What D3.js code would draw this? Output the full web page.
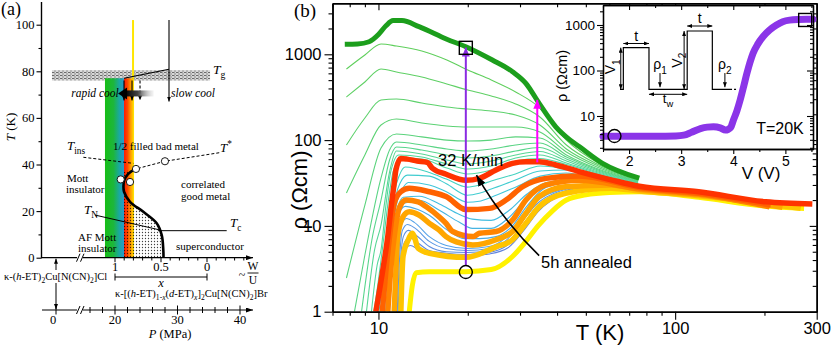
<!DOCTYPE html>
<html><head><meta charset="utf-8">
<script src="https://cdn.jsdelivr.net/npm/d3@7/dist/d3.min.js"></script>
<style>html,body{margin:0;padding:0;background:#fff}svg{display:block}</style>
</head><body>
<svg id="chart" width="831" height="346"></svg>
<script>
// ================= DATA : panel (b) =================
const mainRhoTicks = [1, 10, 100, 1000];
const mainTTicks = [10, 100, 300];
const insetRhoTicks = [10, 100, 1000];
const insetVTicks = [2, 3, 4, 5];

const greenT   = [7.7, 8.5, 9.3, 10.0, 10.6, 11.2, 12.0, 13.7, 17, 19.7, 24.2, 28.3, 31.4, 34.8, 39.6, 44.3, 47.5, 56.7, 75.7];
const greenRho = [1310, 1320, 1400, 1700, 2150, 2470, 2470, 2100, 1500, 1225, 857, 627, 459, 268, 143, 100, 84, 54, 36];

const redT   = [9.8, 10.34, 10.75, 11.0, 11.3, 11.45, 11.9, 12.5, 13.5, 14.6, 15.2, 16.9, 19.7, 21.9, 24.9, 28.3, 31.4, 34.8, 39.6, 47.5, 61.4, 75.7, 120, 202, 290];
const redRho = [1, 3.05, 7.5, 15.3, 31.4, 45, 61, 60, 57, 55, 47, 40, 34, 35.9, 44.8, 53.6, 55.8, 55.8, 51.3, 43, 34.2, 29, 25, 19.1, 18];

const orangeRedT   = [10.3, 10.6, 10.9, 11.3, 11.9, 12.7, 14.85, 16.9, 19.7, 23.7, 26.9, 30.6, 36.7, 47.5, 75.7, 120, 210];
const orangeRedRho = [1, 3.05, 7.5, 18.3, 25, 27.5, 25, 22, 15.5, 16, 20, 28.6, 35.8, 38.2, 28, 24, 17.5];

const orangeT   = [10.75, 11.0, 11.3, 11.8, 12.4, 13.6, 14.5, 16.0, 16.9, 17.8, 20.8, 21.9, 24.9, 28.3, 31.4, 36.7, 47.5, 75.7, 120, 208];
const orangeRho = [1, 3.05, 7.5, 16.7, 20, 19.1, 16.7, 12.8, 10.7, 8.6, 7.5, 8.2, 8.6, 11.7, 20, 30, 34, 27, 23.5, 16.7];

const lightOrangeT   = [11.3, 11.45, 11.6, 12.1, 12.7, 13.7, 14.85, 16.0, 16.9, 18.3, 20.8, 24.9, 28.3, 31.4, 34.8, 42.7, 61, 75.7, 120, 230];
const lightOrangeRho = [1, 3, 7.5, 12.8, 14.6, 13.4, 10.7, 9, 7.5, 6.5, 6, 6.9, 8.6, 14, 22, 28.6, 30, 26.5, 23, 16.5];

const goldT   = [11.9, 12.1, 12.6, 13.0, 13.2, 13.6, 14.85, 19.7, 24.9, 28.3, 31.4, 34.8, 42.7, 61, 75.7, 120, 265];
const goldRho = [1, 4.4, 6.85, 8.2, 7.5, 5.5, 4.8, 4.3, 5.7, 6.9, 10.7, 16.7, 24, 27.5, 25.5, 22.5, 16];

const yellowT   = [12.7, 13.0, 13.4, 14.85, 19.7, 24, 28.3, 31.3, 34.5, 38.6, 43, 50, 60, 75.7, 120, 200, 272];
const yellowRho = [1, 2.0, 2.85, 2.93, 2.93, 3.1, 4.4, 6.5, 10, 15, 20, 23, 24.5, 25, 21.5, 17, 16];

// thin intermediate curves, [T, rho] pairs
const thinGreen = [
 [[7.8,674],[9,981],[10.2,1318],[11.5,1250],[14,1093],[17,858],[20,656],[24,502],[29,364],[35,237],[43,100],[55,54.1],[75,35.2]],
 [[7.8,318],[9,476],[10.2,674],[11.5,622],[14,544],[17,451],[20,384],[24,327],[29,264],[35,186],[43,87.7],[55,51.9],[75,34.7]],
 [[7.8,87.7],[9,181],[10.2,293],[11.5,301],[14,271],[17,243],[20,230],[24,218],[29,196],[35,150],[43,78.8],[55,49.9],[75,34.3]],
 [[7.8,24.2],[9,67.1],[10.2,150],[11.5,176],[14,158],[17,146],[20,142],[24,142],[29,142],[35,124],[43,72.7],[55,47.9],[75,33.8]],
 [[7.8,2.47],[9,17.5],[10.2,80.9],[11.5,118],[14,109],[17,100],[20,97.6],[24,100],[29,109],[35,106],[43,67.1],[55,46.0],[75,33.4]],
 [[8.3,1],[9,4.58],[10.2,36.2],[10.9,76.7],[11.5,95],[14,87.7],[17,78.8],[20,74.6],[24,78.8],[29,87.7],[35,92.5],[43,63.5],[55,44.8],[75,32.9]],
 [[8.77,1],[9.5,6.85],[10.2,20],[10.9,58.6],[11.5,83.1],[14,76.7],[17,67.1],[20,61.9],[24,65.3],[29,74.6],[35,82],[43,60.2],[55,43.6],[75,32.5]],
 [[9.11,1],[9.7,5.24],[10.2,10.2],[10.9,42.5],[11.5,74.6],[14,68.9],[17,58.6],[20,52.7],[24,57.1],[29,67.1],[35,73.6],[43,57.1],[55,42.5],[75,32.1]],
 [[9.47,1],[9.9,3.5],[10.2,5.24],[10.6,17.5],[11.0,42.5],[11.7,67.1],[14,63.5],[17,52.7],[20,46],[24,49.9],[29,61.9],[35,67.1],[43,54.1],[55,41.4],[75,31.6]],
 [[9.65,1],[10.0,2.34],[10.4,6.85],[10.8,20],[11.2,42.5],[11.9,61.9],[14,60.2],[17,47.3],[20,40.3],[24,44.8],[29,57.1],[35,61],[43,51.9],[55,40.3],[75,31.2]]
];
const thinTeal = [
 [[10.04,1],[10.56,3.8],[10.97,11],[11.32,24.7],[11.77,39.1],[12.32,48.6],[14.84,42],[16.94,35.1],[19.94,28.3],[21.87,29.9],[24,33.4],[28.95,40.3],[35.1,49.9],[42.9,46],[55.1,36.2],[75.7,28.8]],
 [[10.16,1],[10.68,3.8],[11.1,11],[11.46,22.8],[11.86,32],[12.52,39.1],[14.84,38],[16.94,31],[19.94,22.8],[21.87,24],[24,26.9],[28.95,34.2],[35.1,43.6],[42.9,44.8],[55.1,35.5],[75.7,28.5]],
 [[10.27,1],[10.8,3.8],[11.23,11],[11.59,19.9],[12.04,26.9],[12.61,32],[14.84,30],[16.94,25],[19.94,18.9],[21.87,19.4],[24,21.6],[28.95,28.3],[35.1,38],[42.9,41.4],[55.1,35],[75.7,28.2]]
];
const thinCyan = [
 [[10.44,1],[10.8,3.06],[11.14,7.74],[11.59,16],[12.13,21.6],[13.73,22.2],[16.04,18],[18.75,13.6],[20.72,12],[23.97,11.6],[27.6,15.2],[31.6,23.4],[36.8,32],[47.5,35.1],[75.7,28.3]],
 [[10.56,1],[10.93,3.06],[11.27,7.74],[11.72,15.2],[12.23,18.4],[13.73,19.9],[16.04,15.2],[18.75,11],[20.72,9.35],[23.97,9.35],[27.6,12.6],[31.6,21],[36.8,30.4],[47.5,34.6],[75.7,27.6]],
 [[10.89,1],[11.1,3.06],[11.41,7.74],[11.77,14.4],[12.32,16.9],[13.52,15.6],[14.84,13.3],[16.94,9.1],[19.48,7.1],[21.87,7.1],[24.9,7.5],[28.2,9.9],[31.6,16.9],[36.8,28.3],[47.5,33],[75.7,26.9]]
];
const thinBlue = [
 [[11.5,1],[11.68,3.94],[11.95,10.15],[12.42,12.2],[13.21,11],[14.84,7.5],[16.94,5.91],[19.94,5.45],[23.6,5.75],[26.6,7.1],[29.8,11.6],[33.5,18.4],[40.7,26.1],[55.5,31.2],[75.7,27.4]],
 [[11.57,1],[11.77,3.94],[12.04,8.86],[12.52,10.4],[13.31,9.35],[14.84,6.6],[16.94,5.45],[19.94,5.16],[23.6,5.45],[26.7,6.6],[30.2,10.7],[33.8,17.4],[41,25.5],[55.5,30.4],[75.7,26.9]],
 [[11.64,1],[11.86,3.8],[12.13,7.5],[12.61,8.86],[13.42,7.74],[14.84,5.75],[16.94,5],[19.94,4.9],[23.6,5.16],[26.9,6.2],[30.4,9.9],[34,16.5],[41.3,24.7],[55.5,29.9],[75.7,26.5]],
 [[11.72,1],[11.93,3.8],[12.23,6.4],[12.71,7.3],[13.52,6.4],[14.84,5.16],[16.94,4.8],[19.94,4.65],[23.6,4.9],[27.1,5.91],[30.6,9.35],[34.3,15.6],[41.6,24],[55.5,29.5],[75.7,26.1]],
 [[11.79,1],[11.99,3.8],[12.32,5.45],[12.81,5.91],[13.63,5.3],[14.84,4.8],[16.94,4.5],[19.94,4.45],[23.6,4.7],[27.4,5.6],[30.9,8.86],[34.6,14.8],[41.9,23.4],[55.5,29.1],[75.7,25.8]]
];

// markers / arrows in main panel
const pulseArrowT = 19.7, pulseArrowRho = [2.9, 1200];
const fieldArrowT = 34.3, fieldArrowRho = [55, 295];
const annealArrow = {from: [34.8, 4.5], ctrl: [26, 12], to: [21.4, 39]};

// inset: rho vs V at T = 20 K
const insetV   = [1.5, 2.0, 2.5, 2.9, 3.05, 3.2, 3.37, 3.5, 3.62, 3.75, 3.85, 3.95, 4.0, 4.07, 4.13, 4.2, 4.26, 4.32, 4.38, 4.47, 4.57, 4.7, 4.83, 4.95, 5.08, 5.25, 5.4, 5.53];
const insetRho = [3.6, 3.6, 3.6, 3.65, 3.8, 4.4, 5.3, 5.7, 5.8, 5.5, 4.9, 5.6, 8.0, 13, 22, 45, 85, 150, 240, 380, 550, 780, 1000, 1180, 1280, 1320, 1330, 1330];
const insetCircle = [1.72, 3.63], insetSquare = [5.38, 1290];

// pulse sketch (time units, voltage units)
const pulseT = [0, 0.13, 0.13, 1.13, 1.13, 2.62, 2.62, 3.6, 3.6, 4.29];
const pulseV = [0, 0, 1, 1, 0, 0, 1.4, 1.4, 0, 0];

// ================= DATA : panel (a) =================
const aTicksT = [0, 20, 40, 60, 80, 100];
const aTicksX = [1, 0.5, 0];
const aTicksP = [0, 20, 30, 40];
const boundaryX = [0.801, 0.859, 0.899, 0.908, 0.902, 0.837, 0.692, 0.547, 0.492, 0.475, 0.473];
const boundaryT = [37.6, 35.9, 33.3, 30.8, 28.3, 24.0, 19.7, 14.8, 9.7, 3.3, 0];
const tinsX = [1.344, 0.801], tinsT = [43.1, 40.5];
const tstarX = [0.804, 0.772, 0.457, -0.141], tstarT = [37.7, 38.1, 41.4, 45.1];
const tnX = [1.217, 0.511], tnT = [18.3, 11.9];
const tcX = [0.533, -0.214], tcT = [11.6, 11.6];
const circX = [0.938, 0.837, 0.772, 0.457], circT = [33.6, 32.5, 38.1, 41.4];
const tgBandX = [1.685, -0.033], tgBandT = [76, 80.5];
const bandGreenX = [1.109, 0.902], bandRedX = [0.902, 0.793], bandTopT = 77;
const tgLineX = [0.902, 0.413], tgLineT = [77, 80.9];
const yellowLineX = 0.804, slowLineX = 0.413, topLineT = 102;
const coolArrowX = [0.902, 0.815, 0.728], coolArrowT = [76, 67.5];
const rapidArrowX = [0.967, 0.58], rapidArrowT = 70.5;

// ================= DRAW =================
const SANS = '"Liberation Sans", Arial, sans-serif';
const SERIF = '"Liberation Serif", "Times New Roman", serif';
const svg = d3.select('#chart');
const defs = svg.append('defs');

function mk(id, color, w, h) {
  defs.append('marker').attr('id', id).attr('viewBox', `0 0 ${w} ${h}`)
    .attr('refX', w).attr('refY', h / 2).attr('markerWidth', w).attr('markerHeight', h)
    .attr('markerUnits', 'userSpaceOnUse').attr('orient', 'auto-start-reverse')
    .append('path').attr('d', `M0,0L${w},${h / 2}L0,${h}Z`).attr('fill', color);
}
mk('ahBlk', '#000', 7, 5); mk('ahSm', '#000', 5, 4); mk('ahBig', '#000', 11, 8);
mk('ahPur', '#8a2be2', 9, 8); mk('ahMag', '#ff00ff', 9, 8);

function grad(id, stops) {
  const g = defs.append('linearGradient').attr('id', id).attr('x1', 0).attr('x2', 1).attr('y1', 0).attr('y2', 0);
  stops.forEach(([o, c, op]) => g.append('stop').attr('offset', o).attr('stop-color', c).attr('stop-opacity', op == null ? 1 : op));
}
grad('gGreen', [[0, '#16be16'], [0.45, '#1db63c'], [0.75, '#1aa8a0'], [1, '#2a98cc']]);
grad('gRed', [[0, '#ff1800'], [0.35, '#ff4a00'], [0.6, '#ff8c00'], [0.85, '#ffc400'], [1, '#ffee00']]);
grad('gRapid', [[0, '#000'], [0.45, '#444'], [1, '#ddd', 0.3]]);

const pTg = defs.append('pattern').attr('id', 'tgPat').attr('patternUnits', 'userSpaceOnUse').attr('width', 4).attr('height', 3);
pTg.append('rect').attr('width', 4).attr('height', 3).attr('fill', '#d8d8d8');
pTg.append('rect').attr('x', 0).attr('y', 0).attr('width', 2.5).attr('height', 1).attr('fill', '#6a6a6a');
pTg.append('rect').attr('x', 2).attr('y', 1.5).attr('width', 2).attr('height', 1).attr('fill', '#8a8a8a');
const pDot = defs.append('pattern').attr('id', 'dotPat').attr('patternUnits', 'userSpaceOnUse').attr('width', 3).attr('height', 3);
pDot.append('circle').attr('cx', 1.5).attr('cy', 1.5).attr('r', 0.65).attr('fill', '#000');

function rich(g, x, y, parts, fs, anchor, family, rot) {
  const t = g.append('text').attr('x', x).attr('y', y).attr('font-size', fs)
    .attr('font-family', family || SERIF).attr('text-anchor', anchor || 'start');
  if (rot) t.attr('transform', `rotate(${rot},${x},${y})`);
  let shift = 0;
  parts.forEach(p => {
    const s = p[0], st = p[1] || '';
    const sp = t.append('tspan').text(s);
    let target = 0, size = fs;
    if (st.includes('sub')) { target = fs * 0.3; size = fs * 0.72; }
    if (st.includes('sup')) { target = -fs * 0.42; size = fs * 0.72; }
    if (target - shift !== 0) sp.attr('dy', target - shift);
    shift = target;
    if (size !== fs) sp.attr('font-size', size);
    if (st.includes('i')) sp.attr('font-style', 'italic');
  });
  return t;
}

// ---------- Panel (b) ----------
const xB = d3.scaleLog().domain([7, 300]).range([332.5, 816.7]);
const yB = d3.scaleLog().domain([1, 3930]).range([311.7, 3.3]);
defs.append('clipPath').attr('id', 'clipB').append('rect')
  .attr('x', 332.5).attr('y', 3.3).attr('width', 816.7 - 332.5).attr('height', 311.7 - 3.3);
const gB = svg.append('g');
const plotB = gB.append('g').attr('clip-path', 'url(#clipB)');
const lineB = d3.line().x(d => xB(d[0])).y(d => yB(d[1])).curve(d3.curveMonotoneX);
const zip = (T, R) => T.map((t, i) => [t, R[i]]);

const greenCol = d3.interpolateRgb('#5fcf5c', '#55d8a4');
thinGreen.forEach((c, i) => plotB.append('path').attr('d', lineB(c)).attr('fill', 'none')
  .attr('stroke', greenCol(i / (thinGreen.length - 1))).attr('stroke-width', 1.1));
['#44d2c0', '#40ccd0', '#40c6da'].forEach((col, i) => plotB.append('path').attr('d', lineB(thinTeal[i]))
  .attr('fill', 'none').attr('stroke', col).attr('stroke-width', 1.1));
['#42bde0', '#46b4e2', '#4aaae4'].forEach((col, i) => plotB.append('path').attr('d', lineB(thinCyan[i]))
  .attr('fill', 'none').attr('stroke', col).attr('stroke-width', 1.1));
['#56a2e8', '#5a98e4', '#5c8fe2', '#5e88e0', '#6082dc'].forEach((col, i) => plotB.append('path').attr('d', lineB(thinBlue[i]))
  .attr('fill', 'none').attr('stroke', col).attr('stroke-width', 1.1));

const thick = [
  [yellowT, yellowRho, '#fff200', 5],
  [goldT, goldRho, '#ffc400', 5.5],
  [lightOrangeT, lightOrangeRho, '#ffa600', 5.5],
  [orangeT, orangeRho, '#ff8400', 5.5],
  [orangeRedT, orangeRedRho, '#ff6200', 5.5],
  [redT, redRho, '#ff3300', 5.5],
  [greenT, greenRho, '#1c9e1c', 5]
];
thick.forEach(([T, R, col, w]) => plotB.append('path').attr('d', lineB(zip(T, R))).attr('fill', 'none')
  .attr('stroke', col).attr('stroke-width', w).attr('stroke-linejoin', 'round'));

// annotations
gB.append('line').attr('x1', xB(pulseArrowT)).attr('x2', xB(pulseArrowT))
  .attr('y1', yB(pulseArrowRho[0]) - 6).attr('y2', yB(pulseArrowRho[1]))
  .attr('stroke', '#8a2be2').attr('stroke-width', 2).attr('marker-end', 'url(#ahPur)');
gB.append('circle').attr('cx', xB(pulseArrowT)).attr('cy', yB(pulseArrowRho[0])).attr('r', 6.5)
  .attr('fill', 'none').attr('stroke', '#000').attr('stroke-width', 1.4);
gB.append('rect').attr('x', xB(pulseArrowT) - 6.5).attr('y', yB(1190) - 6.5).attr('width', 13).attr('height', 13)
  .attr('fill', 'none').attr('stroke', '#000').attr('stroke-width', 1.4);
gB.append('line').attr('x1', xB(fieldArrowT)).attr('x2', xB(fieldArrowT))
  .attr('y1', yB(fieldArrowRho[0])).attr('y2', yB(fieldArrowRho[1]))
  .attr('stroke', '#ff00ff').attr('stroke-width', 2).attr('marker-end', 'url(#ahMag)');
{
  const p = d3.path();
  p.moveTo(xB(annealArrow.from[0]), yB(annealArrow.from[1]));
  p.quadraticCurveTo(xB(annealArrow.ctrl[0]), yB(annealArrow.ctrl[1]), xB(annealArrow.to[0]), yB(annealArrow.to[1]));
  gB.append('path').attr('d', p.toString()).attr('fill', 'none').attr('stroke', '#000').attr('stroke-width', 1.6)
    .attr('marker-end', 'url(#ahBig)');
}
gB.append('text').attr('x', 438).attr('y', 166).attr('font-family', SANS).attr('font-size', 16.5).text('32 K/min');
gB.append('text').attr('x', 541).attr('y', 268).attr('font-family', SANS).attr('font-size', 16.5).text('5h annealed');

// axes (b)
function styleAxis(g, fs, fam) {
  g.attr('font-family', fam).attr('font-size', fs);
  g.selectAll('path.domain').attr('stroke-width', 1.5);
  g.selectAll('.tick line').attr('stroke-width', 1.1);
  g.selectAll('.tick text').attr('fill', '#000');
  return g;
}
const decMinors = (lo, hi) => { const out = []; for (let d = 1; d <= 1000; d *= 10) for (let m = 2; m <= 9; m++) { const v = d * m; if (v > lo && v < hi) out.push(v); } return out; };
const rhoMinor = decMinors(1, 3930);
const tMinor = [7, 8, 9, 20, 30, 40, 50, 60, 70, 80, 90, 200];
styleAxis(gB.append('g').attr('transform', 'translate(332.5,0)').call(d3.axisLeft(yB).tickValues(rhoMinor).tickSize(4).tickSizeOuter(0).tickFormat('')), 16.5, SANS);
styleAxis(gB.append('g').attr('transform', 'translate(332.5,0)').call(d3.axisLeft(yB).tickValues(mainRhoTicks).tickSize(8).tickSizeOuter(0).tickPadding(3).tickFormat(d3.format('d'))), 16.5, SANS);
styleAxis(gB.append('g').attr('transform', 'translate(0,311.7)').call(d3.axisBottom(xB).tickValues(tMinor).tickSize(4).tickSizeOuter(0).tickFormat('')), 16.5, SANS);
styleAxis(gB.append('g').attr('transform', 'translate(0,311.7)').call(d3.axisBottom(xB).tickValues(mainTTicks).tickSize(8).tickSizeOuter(0).tickPadding(3).tickFormat(d3.format('d'))), 16.5, SANS);
styleAxis(gB.append('g').attr('transform', 'translate(0,3.3)').call(d3.axisTop(xB).tickValues(tMinor).tickSize(-4).tickSizeOuter(0).tickFormat('')), 10, SANS);
styleAxis(gB.append('g').attr('transform', 'translate(0,3.3)').call(d3.axisTop(xB).tickValues(mainTTicks).tickSize(-7).tickSizeOuter(0).tickFormat('')), 10, SANS);
styleAxis(gB.append('g').attr('transform', 'translate(816.7,0)').call(d3.axisRight(yB).tickValues(rhoMinor).tickSize(-4).tickSizeOuter(0).tickFormat('')), 10, SANS);
styleAxis(gB.append('g').attr('transform', 'translate(816.7,0)').call(d3.axisRight(yB).tickValues(mainRhoTicks).tickSize(-7).tickSizeOuter(0).tickFormat('')), 10, SANS);

gB.append('text').attr('x', 600).attr('y', 340).attr('text-anchor', 'middle').attr('font-family', SANS).attr('font-size', 22).text('T (K)');
gB.append('text').attr('transform', 'translate(307,190) rotate(-90)').attr('text-anchor', 'middle').attr('font-family', SANS).attr('font-size', 22).text('ρ (Ωcm)');
gB.append('text').attr('x', 294).attr('y', 17).attr('font-family', SERIF).attr('font-size', 19).text('(b)');

// ---------- inset ----------
const xI = d3.scaleLinear().domain([1.5, 5.53]).range([603, 813]);
const yI = d3.scaleLog().domain([1.883, 2752]).range([149, 5]);
const gI = svg.append('g');
gI.append('rect').attr('x', 603).attr('y', 5).attr('width', 210).attr('height', 144).attr('fill', '#fff');
const lineI = d3.line().x(d => xI(d[0])).y(d => yI(d[1])).curve(d3.curveMonotoneX);
gI.append('path').attr('d', lineI(zip(insetV, insetRho))).attr('fill', 'none').attr('stroke', '#8b35e8')
  .attr('stroke-width', 7).attr('stroke-linecap', 'round');
gI.append('circle').attr('cx', xI(insetCircle[0])).attr('cy', yI(insetCircle[1])).attr('r', 6.5)
  .attr('fill', 'none').attr('stroke', '#000').attr('stroke-width', 1.4);
gI.append('rect').attr('x', xI(insetSquare[0]) - 6.5).attr('y', yI(insetSquare[1]) - 6.5).attr('width', 13).attr('height', 13)
  .attr('fill', 'none').attr('stroke', '#000').attr('stroke-width', 1.4);

const rhoMinorI = decMinors(1.883, 2752);
const vMinorI = [1.5, 2.5, 3.5, 4.5, 5.5];
styleAxis(gI.append('g').attr('transform', 'translate(603,0)').call(d3.axisLeft(yI).tickValues(rhoMinorI).tickSize(3).tickSizeOuter(0).tickFormat('')), 13.5, SANS);
styleAxis(gI.append('g').attr('transform', 'translate(603,0)').call(d3.axisLeft(yI).tickValues(insetRhoTicks).tickSize(6).tickSizeOuter(0).tickPadding(2).tickFormat(d3.format('d'))), 13.5, SANS);
styleAxis(gI.append('g').attr('transform', 'translate(0,149)').call(d3.axisBottom(xI).tickValues(vMinorI).tickSize(3).tickSizeOuter(0).tickFormat('')), 14, SANS);
styleAxis(gI.append('g').attr('transform', 'translate(0,149)').call(d3.axisBottom(xI).tickValues(insetVTicks).tickSize(5).tickSizeOuter(0).tickPadding(2).tickFormat(d3.format('d'))), 14, SANS);
styleAxis(gI.append('g').attr('transform', 'translate(0,5)').call(d3.axisTop(xI).tickValues(insetVTicks).tickSize(-5).tickSizeOuter(0).tickFormat('')), 10, SANS);
styleAxis(gI.append('g').attr('transform', 'translate(0,5)').call(d3.axisTop(xI).tickValues(vMinorI).tickSize(-3).tickSizeOuter(0).tickFormat('')), 10, SANS);
styleAxis(gI.append('g').attr('transform', 'translate(813,0)').call(d3.axisRight(yI).tickValues(rhoMinorI).tickSize(-3).tickSizeOuter(0).tickFormat('')), 10, SANS);
styleAxis(gI.append('g').attr('transform', 'translate(813,0)').call(d3.axisRight(yI).tickValues(insetRhoTicks).tickSize(-6).tickSizeOuter(0).tickFormat('')), 10, SANS);
gI.selectAll('path.domain').attr('stroke-width', 1.3);

gI.append('text').attr('transform', 'translate(567,76) rotate(-90)').attr('text-anchor', 'middle').attr('font-family', SANS).attr('font-size', 14.5).text('ρ (Ωcm)');
gI.append('text').attr('x', 761).attr('y', 179).attr('text-anchor', 'middle').attr('font-family', SANS).attr('font-size', 17).text('V (V)');
gI.append('text').attr('x', 780).attr('y', 134).attr('text-anchor', 'middle').attr('font-family', SANS).attr('font-size', 16).text('T=20K');

// pulse sketch
const tP = d3.scaleLinear().domain([0, 4.55]).range([620, 736.7]);
const vP = d3.scaleLinear().domain([0, 1.4]).range([89.3, 31]);
const gP = gI.append('g').attr('stroke', '#000').attr('fill', 'none').attr('stroke-width', 1.2);
gP.append('path').attr('d', d3.line().x(d => tP(d[0])).y(d => vP(d[1]))(zip(pulseT, pulseV)));
gP.append('line').attr('x1', tP(4.29)).attr('x2', tP(4.55)).attr('y1', vP(0)).attr('y2', vP(0)).attr('stroke-dasharray', '2,2');
const dbl = (x1, y1, x2, y2) => gP.append('line').attr('x1', x1).attr('y1', y1).attr('x2', x2).attr('y2', y2)
  .attr('marker-start', 'url(#ahSm)').attr('marker-end', 'url(#ahSm)').attr('stroke-width', 1);
dbl(tP(0.13), vP(1.1), tP(1.13), vP(1.1));
dbl(tP(2.62), vP(1.52), tP(3.6), vP(1.52));
dbl(tP(0.03), vP(0), tP(0.03), vP(1));
dbl(tP(2.5), vP(0), tP(2.5), vP(1.4));
dbl(tP(1.13), vP(-0.12), tP(2.62), vP(-0.12));
gP.append('line').attr('x1', tP(1.56)).attr('x2', tP(1.56)).attr('y1', vP(0.39)).attr('y2', vP(0.05)).attr('stroke-width', 1).attr('marker-end', 'url(#ahSm)');
gP.append('line').attr('x1', tP(4.09)).attr('x2', tP(4.09)).attr('y1', vP(0.39)).attr('y2', vP(0.05)).attr('stroke-width', 1).attr('marker-end', 'url(#ahSm)');
const gPt = gI.append('g');
rich(gPt, tP(0.63), vP(1.17), [['t']], 14, 'middle', SANS);
rich(gPt, tP(3.11), vP(1.6), [['t']], 14, 'middle', SANS);
rich(gPt, tP(1.56), vP(0.48), [['ρ'], ['1', 'sub']], 14, 'middle', SANS);
rich(gPt, tP(4.09), vP(0.48), [['ρ'], ['2', 'sub']], 14, 'middle', SANS);
rich(gPt, tP(1.87), vP(-0.33), [['t'], ['w', 'sub']], 13, 'middle', SANS);
rich(gPt, tP(-0.18), vP(0.54), [['V'], ['1', 'sub']], 14, 'middle', SANS, -90);
rich(gPt, tP(2.4), vP(0.7), [['V'], ['2', 'sub']], 14, 'middle', SANS, -90);

// ---------- Panel (a) ----------
const yA = d3.scaleLinear().domain([0, 110]).range([257.7, 1.4]);
const xA = d3.scaleLinear().domain([1, 0]).range([115, 207]);
const pA = d3.scaleLinear().domain([0, 14.4, 40]).range([56, 80, 240]);
const gA = svg.append('g');
const lineA = d3.line().x(d => xA(d[0])).y(d => yA(d[1]));

gA.append('rect').attr('x', xA(tgBandX[0])).attr('y', yA(tgBandT[1]))
  .attr('width', xA(tgBandX[1]) - xA(tgBandX[0])).attr('height', yA(tgBandT[0]) - yA(tgBandT[1])).attr('fill', 'url(#tgPat)');
gA.append('rect').attr('x', xA(bandGreenX[0])).attr('y', yA(bandTopT)).attr('width', xA(bandGreenX[1]) - xA(bandGreenX[0]))
  .attr('height', yA(0) - yA(bandTopT)).attr('fill', 'url(#gGreen)');
gA.append('rect').attr('x', xA(bandRedX[0])).attr('y', yA(bandTopT)).attr('width', xA(bandRedX[1]) - xA(bandRedX[0]))
  .attr('height', yA(0) - yA(bandTopT)).attr('fill', 'url(#gRed)');
gA.append('line').attr('x1', xA(yellowLineX)).attr('x2', xA(yellowLineX)).attr('y1', yA(topLineT)).attr('y2', yA(bandTopT))
  .attr('stroke', '#ffe600').attr('stroke-width', 2);
gA.append('line').attr('x1', xA(slowLineX)).attr('x2', xA(slowLineX)).attr('y1', yA(topLineT)).attr('y2', yA(67))
  .attr('stroke', '#000').attr('stroke-width', 1.1).attr('marker-end', 'url(#ahSm)');
gA.append('path').attr('d', lineA(zip(tgLineX, tgLineT))).attr('stroke', '#000').attr('stroke-width', 1.1).attr('fill', 'none');
coolArrowX.forEach((x, i) => gA.append('line').attr('x1', xA(x)).attr('x2', xA(x)).attr('y1', yA(coolArrowT[0])).attr('y2', yA(coolArrowT[1]))
  .attr('stroke', '#000').attr('stroke-width', 1.1).attr('stroke-dasharray', i === 2 ? '3,2' : null).attr('marker-end', 'url(#ahSm)'));
{
  const tip = xA(rapidArrowX[0]), tail = xA(rapidArrowX[1]), yy = yA(rapidArrowT);
  gA.append('rect').attr('x', tip + 7).attr('y', yy - 3).attr('width', tail - tip - 7).attr('height', 6).attr('fill', 'url(#gRapid)');
  gA.append('path').attr('d', `M${tip},${yy}L${tip + 9},${yy - 6}L${tip + 9},${yy + 6}Z`).attr('fill', '#000');
}
{
  const pts = zip(boundaryX, boundaryT).concat([[0.902, 0], [0.902, 37.6]]);
  gA.append('path').attr('d', d3.line().x(d => xA(d[0])).y(d => yA(d[1]))(pts) + 'Z').attr('fill', 'url(#dotPat)').attr('opacity', 0.75);
}
gA.append('path').attr('d', d3.line().x(d => xA(d[0])).y(d => yA(d[1])).curve(d3.curveCatmullRom)(zip(boundaryX, boundaryT)))
  .attr('fill', 'none').attr('stroke', '#000').attr('stroke-width', 2.6);
gA.append('path').attr('d', lineA(zip(tinsX, tinsT))).attr('fill', 'none').attr('stroke', '#000').attr('stroke-width', 1).attr('stroke-dasharray', '3,2');
gA.append('path').attr('d', lineA(zip(tstarX, tstarT))).attr('fill', 'none').attr('stroke', '#000').attr('stroke-width', 1).attr('stroke-dasharray', '3,2');
gA.append('path').attr('d', lineA(zip(tnX, tnT))).attr('fill', 'none').attr('stroke', '#000').attr('stroke-width', 1);
gA.append('path').attr('d', lineA(zip(tcX, tcT))).attr('fill', 'none').attr('stroke', '#000').attr('stroke-width', 1);
circX.forEach((x, i) => gA.append('circle').attr('cx', xA(x)).attr('cy', yA(circT[i])).attr('r', 3.6)
  .attr('fill', '#fff').attr('stroke', '#000').attr('stroke-width', 0.9));

styleAxis(gA.append('g').attr('transform', 'translate(41,0)').call(d3.axisLeft(yA).tickValues([10, 30, 50, 70, 90]).tickSize(2.5).tickSizeOuter(0).tickFormat('')), 12, SERIF);
styleAxis(gA.append('g').attr('transform', 'translate(41,0)').call(d3.axisLeft(yA).tickValues(aTicksT).tickSize(4.5).tickSizeOuter(0).tickPadding(2).tickFormat(d3.format('d'))), 12.5, SERIF);
gA.selectAll('path.domain').attr('stroke-width', 1.2);
const y0 = yA(0), yP = 310;
gA.append('line').attr('x1', 41).attr('x2', 253).attr('y1', y0).attr('y2', y0).attr('stroke', '#000').attr('stroke-width', 1.2).attr('marker-end', 'url(#ahBlk)');
gA.append('line').attr('x1', 42).attr('x2', 253).attr('y1', yP).attr('y2', yP).attr('stroke', '#000').attr('stroke-width', 1.2).attr('marker-end', 'url(#ahBlk)');
const xTickA = d3.range(-4, 11).map(k => k / 10);
xTickA.forEach(v => {
  const major = aTicksX.includes(v);
  gA.append('line').attr('x1', xA(v)).attr('x2', xA(v)).attr('y1', y0).attr('y2', y0 + (major ? 4.5 : 2.8)).attr('stroke', '#000').attr('stroke-width', 1);
});
aTicksX.forEach(v => gA.append('text').attr('x', xA(v)).attr('y', 271).attr('text-anchor', 'middle')
  .attr('font-family', SERIF).attr('font-size', 12.5).text(v));
const pTicks = d3.range(16, 42, 2).concat([0]);
pTicks.forEach(v => {
  const major = aTicksP.includes(v);
  const h = major ? 4.5 : 3;
  gA.append('line').attr('x1', pA(v)).attr('x2', pA(v)).attr('y1', yP - h).attr('y2', yP + h).attr('stroke', '#000').attr('stroke-width', 1);
});
aTicksP.forEach(v => gA.append('text').attr('x', pA(v) - (v === 0 ? 3 : 0)).attr('y', 324).attr('text-anchor', 'middle')
  .attr('font-family', SERIF).attr('font-size', 12.5).text(v));
[y0, yP].forEach(yy => {
  gA.append('rect').attr('x', 77).attr('y', yy - 2).attr('width', 6).attr('height', 4).attr('fill', '#fff');
  [76.5, 80.5].forEach(xx => gA.append('line').attr('x1', xx).attr('x2', xx + 3.5).attr('y1', yy + 4).attr('y2', yy - 4)
    .attr('stroke', '#000').attr('stroke-width', 1));
});
gA.append('line').attr('x1', xA(1)).attr('x2', xA(0)).attr('y1', 277).attr('y2', 277).attr('stroke', '#000').attr('stroke-width', 1);
[1, 0].forEach(v => gA.append('line').attr('x1', xA(v)).attr('x2', xA(v)).attr('y1', 273.5).attr('y2', 280.5).attr('stroke', '#000').attr('stroke-width', 1));
rich(gA, 161, 287, [['x', 'i']], 12.5, 'middle');
rich(gA, 242, 279, [['~']], 12, 'middle');
rich(gA, 253, 270, [['W']], 11.5, 'middle');
gA.append('line').attr('x1', 247.5).attr('x2', 258.5).attr('y1', 273).attr('y2', 273).attr('stroke', '#000').attr('stroke-width', 0.9);
rich(gA, 253, 284, [['U']], 11.5, 'middle');
gA.append('line').attr('x1', pA(0)).attr('x2', pA(0)).attr('y1', 270).attr('y2', y0 + 1).attr('stroke', '#000').attr('stroke-width', 1).attr('marker-end', 'url(#ahSm)');
gA.append('line').attr('x1', pA(0)).attr('x2', pA(0)).attr('y1', 283).attr('y2', yP - 1).attr('stroke', '#000').attr('stroke-width', 1).attr('marker-end', 'url(#ahSm)');

rich(gA, 1, 15, [['(a)']], 18);
rich(gA, 15, 127, [['T', 'i'], [' (K)']], 13, 'middle', SERIF, -90);
rich(gA, 95, 97, [['rapid cool', 'i']], 11.5, 'middle');
rich(gA, 193, 97, [['slow cool', 'i']], 11.5, 'middle');
rich(gA, 213, 74, [['T', 'i'], ['g', 'sub']], 13.5);
rich(gA, 113, 150, [['1/2 filled bad metal']], 11);
rich(gA, 67, 150, [['T', 'i'], ['ins', 'sub']], 13);
rich(gA, 220, 152, [['T', 'i'], ['*', 'sup']], 13);
rich(gA, 67, 182, [['Mott']], 11);
rich(gA, 66, 193, [['insulator']], 11);
rich(gA, 181, 188, [['correlated']], 11);
rich(gA, 181, 199.5, [['good metal']], 11);
rich(gA, 84, 214, [['T', 'i'], ['N', 'sub']], 13);
rich(gA, 230, 227, [['T', 'i'], ['c', 'sub']], 13);
rich(gA, 78, 241, [['AF Mott']], 11);
rich(gA, 78, 252, [['insulator']], 11);
rich(gA, 176, 250, [['superconductor']], 11);
rich(gA, 4, 280, [['κ-('], ['h', 'i'], ['-ET)'], ['2', 'sub'], ['Cu[N(CN)'], ['2', 'sub'], [']Cl']], 10.5);
rich(gA, 115, 297, [['κ-[('], ['h', 'i'], ['-ET)'], ['1-', 'sub'], ['x', 'isub'], ['('], ['d', 'i'], ['-ET)'], ['x', 'isub'], [']'], ['2', 'sub'], ['Cu[N(CN)'], ['2', 'sub'], [']Br']], 10.5);
rich(gA, 170, 338, [['P', 'i'], [' (MPa)']], 12.5, 'middle');
</script>
</body></html>
